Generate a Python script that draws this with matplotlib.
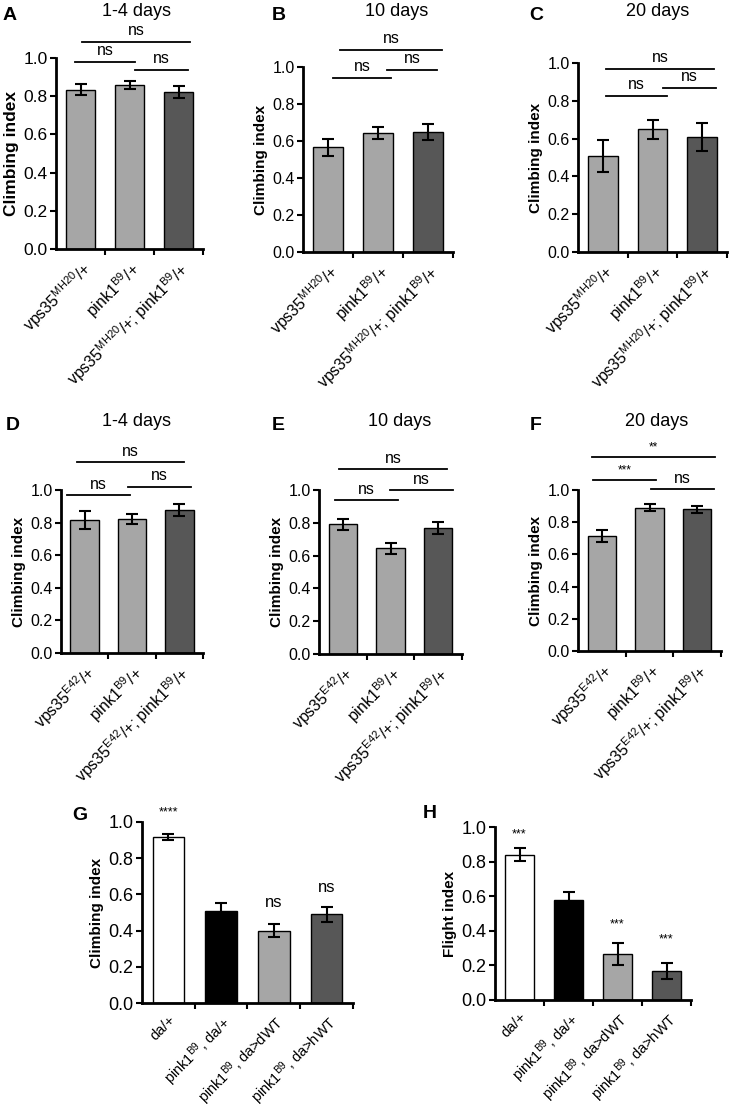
import matplotlib
matplotlib.use("Agg")
import matplotlib.pyplot as plt

plt.rcParams["font.family"] = ["Liberation Sans", "DejaVu Sans"]
plt.rcParams["mathtext.default"] = "regular"

W, H = 729, 1113

LIGHT = "#a6a6a6"
DARK = "#575757"

# ---- data ----
labels_mh20 = ["vps35$^{MH20}$/+", "pink1$^{B9}$/+", "vps35$^{MH20}$/+; pink1$^{B9}$/+"]
labels_e42 = ["vps35$^{E42}$/+", "pink1$^{B9}$/+", "vps35$^{E42}$/+; pink1$^{B9}$/+"]
labels_rescue = ["da/+", "pink1$^{B9}$, da/+", "pink1$^{B9}$, da>dWT", "pink1$^{B9}$, da>hWT"]

a_mean = [0.835, 0.858, 0.823]
a_err = [0.030, 0.020, 0.030]
b_mean = [0.565, 0.645, 0.648]
b_err = [0.045, 0.032, 0.045]
c_mean = [0.508, 0.650, 0.610]
c_err = [0.085, 0.050, 0.075]
d_mean = [0.816, 0.822, 0.878]
d_err = [0.058, 0.030, 0.035]
e_mean = [0.790, 0.644, 0.766]
e_err = [0.036, 0.035, 0.036]
f_mean = [0.714, 0.890, 0.880]
f_err = [0.040, 0.022, 0.020]
g_mean = [0.917, 0.510, 0.400, 0.490]
g_err = [0.018, 0.045, 0.034, 0.043]
h_mean = [0.840, 0.578, 0.265, 0.167]
h_err = [0.037, 0.048, 0.062, 0.047]

cols3 = [LIGHT, LIGHT, DARK]
cols4 = ["white", "black", LIGHT, DARK]


def rect(x0, y0, x1, y1):
    # pixel box -> figure fraction
    return [x0 / W, 1 - y1 / H, (x1 - x0) / W, (y1 - y0) / H]


def bar_panel(fig, box, means, errs, labels, colors, ylabel="Climbing index",
              tick_fs=11.5, label_fs=11, xlab_fs=11.5):
    ax = fig.add_axes(rect(*box))
    n = len(means)
    xs = list(range(n))
    ax.bar(xs, means, width=0.6, color=colors, edgecolor="black", linewidth=1.0, zorder=2)
    ax.errorbar(xs, means, yerr=errs, fmt="none", ecolor="black", elinewidth=1.5,
                capsize=4, capthick=1.5, zorder=3)
    ax.set_xlim(-0.5, n - 0.5)
    ax.set_ylim(0, 1.0)
    ax.set_yticks([0, 0.2, 0.4, 0.6, 0.8, 1.0])
    ax.set_yticklabels(["0.0", "0.2", "0.4", "0.6", "0.8", "1.0"], fontsize=tick_fs)
    ax.set_xticks(xs)
    ax.set_xticklabels(labels, rotation=45, ha="right", rotation_mode="anchor",
                       fontsize=xlab_fs)
    ax.set_xticks([i + 0.5 for i in range(n)], minor=True)
    ax.tick_params(axis="x", which="major", length=0, pad=7)
    ax.tick_params(axis="x", which="minor", length=4, width=1.5, direction="out")
    ax.tick_params(axis="y", length=4, width=1.5, direction="out", pad=2)
    for s in ["top", "right"]:
        ax.spines[s].set_visible(False)
    for s in ["left", "bottom"]:
        ax.spines[s].set_linewidth(2)
    ax.set_ylabel(ylabel, fontweight="bold", fontsize=label_fs, labelpad=3)
    return ax


def bracket(ax, x1, x2, y, text, size=11.5):
    ax.plot([x1, x2], [y, y], color="black", lw=1.3, clip_on=False)
    ax.text((x1 + x2) / 2, y + 0.02, text, ha="center", va="bottom", fontsize=size,
            clip_on=False)


fig = plt.figure(figsize=(W / 100, H / 100), dpi=100)

# row 1
axA = bar_panel(fig, (56, 58, 203, 249), a_mean, a_err, labels_mh20, cols3,
                tick_fs=12.5, label_fs=12.5)
bracket(axA, 0.03, 2.23, 1.084, "ns")
bracket(axA, -0.11, 1.11, 0.979, "ns")
bracket(axA, 1.11, 2.19, 0.937, "ns")

axB = bar_panel(fig, (303, 67, 453, 252), b_mean, b_err, labels_mh20, cols3)
bracket(axB, 0.24, 2.28, 1.092, "ns")
bracket(axB, 0.10, 1.26, 0.94, "ns")
bracket(axB, 1.18, 2.18, 0.984, "ns")

axC = bar_panel(fig, (578, 63, 727, 252), c_mean, c_err, labels_mh20, cols3)
bracket(axC, 0.06, 2.24, 0.968, "ns")
bracket(axC, 0.06, 1.29, 0.825, "ns")
bracket(axC, 1.21, 2.28, 0.868, "ns")

# row 2
axD = bar_panel(fig, (61, 490, 203, 653), d_mean, d_err, labels_e42, cols3)
bracket(axD, -0.16, 2.10, 1.17, "ns")
bracket(axD, -0.37, 0.96, 0.97, "ns")
bracket(axD, 0.92, 2.25, 1.02, "ns")

axE = bar_panel(fig, (319, 490, 462, 654), e_mean, e_err, labels_e42, cols3)
bracket(axE, -0.08, 2.18, 1.128, "ns")
bracket(axE, -0.16, 1.16, 0.94, "ns")
bracket(axE, 0.99, 2.31, 1.0, "ns")

axF = bar_panel(fig, (578, 490, 721, 651), f_mean, f_err, labels_e42, cols3)
bracket(axF, -0.21, 2.37, 1.205, "**", size=8.5)
bracket(axF, -0.19, 1.14, 1.062, "***", size=8.5)
bracket(axF, 1.03, 2.35, 1.006, "ns")

# row 3
axG = bar_panel(fig, (142, 822, 353, 1003), g_mean, g_err, labels_rescue, cols4,
                tick_fs=13, label_fs=11, xlab_fs=10.5)
axG.text(0, 1.02, "****", ha="center", va="bottom", fontsize=9, clip_on=False)
axG.text(2, 0.515, "ns", ha="center", va="bottom", fontsize=12)
axG.text(3, 0.595, "ns", ha="center", va="bottom", fontsize=12)

axH = bar_panel(fig, (495, 827, 691, 1000), h_mean, h_err, labels_rescue, cols4,
                ylabel="Flight index", tick_fs=13, label_fs=11, xlab_fs=10.5)
axH.text(0, 0.925, "***", ha="center", va="bottom", fontsize=9)
axH.text(2, 0.40, "***", ha="center", va="bottom", fontsize=9)
axH.text(3, 0.315, "***", ha="center", va="bottom", fontsize=9)

# titles
titles = [("1-4 days", 137, 12), ("10 days", 397, 12), ("20 days", 658, 12),
          ("1-4 days", 137, 421), ("10 days", 400, 421), ("20 days", 657, 421)]
for t, x, y in titles:
    fig.text(x / W, 1 - y / H, t, ha="center", va="center", fontsize=13)

letters = [("A", 10, 15), ("B", 279, 15), ("C", 536, 15),
           ("D", 13, 425), ("E", 278, 425), ("F", 536, 425),
           ("G", 80, 815), ("H", 430, 814)]
for t, x, y in letters:
    fig.text(x / W, 1 - y / H, t, ha="center", va="center", fontsize=14, fontweight="bold")

fig.savefig("out.png", dpi=100)
